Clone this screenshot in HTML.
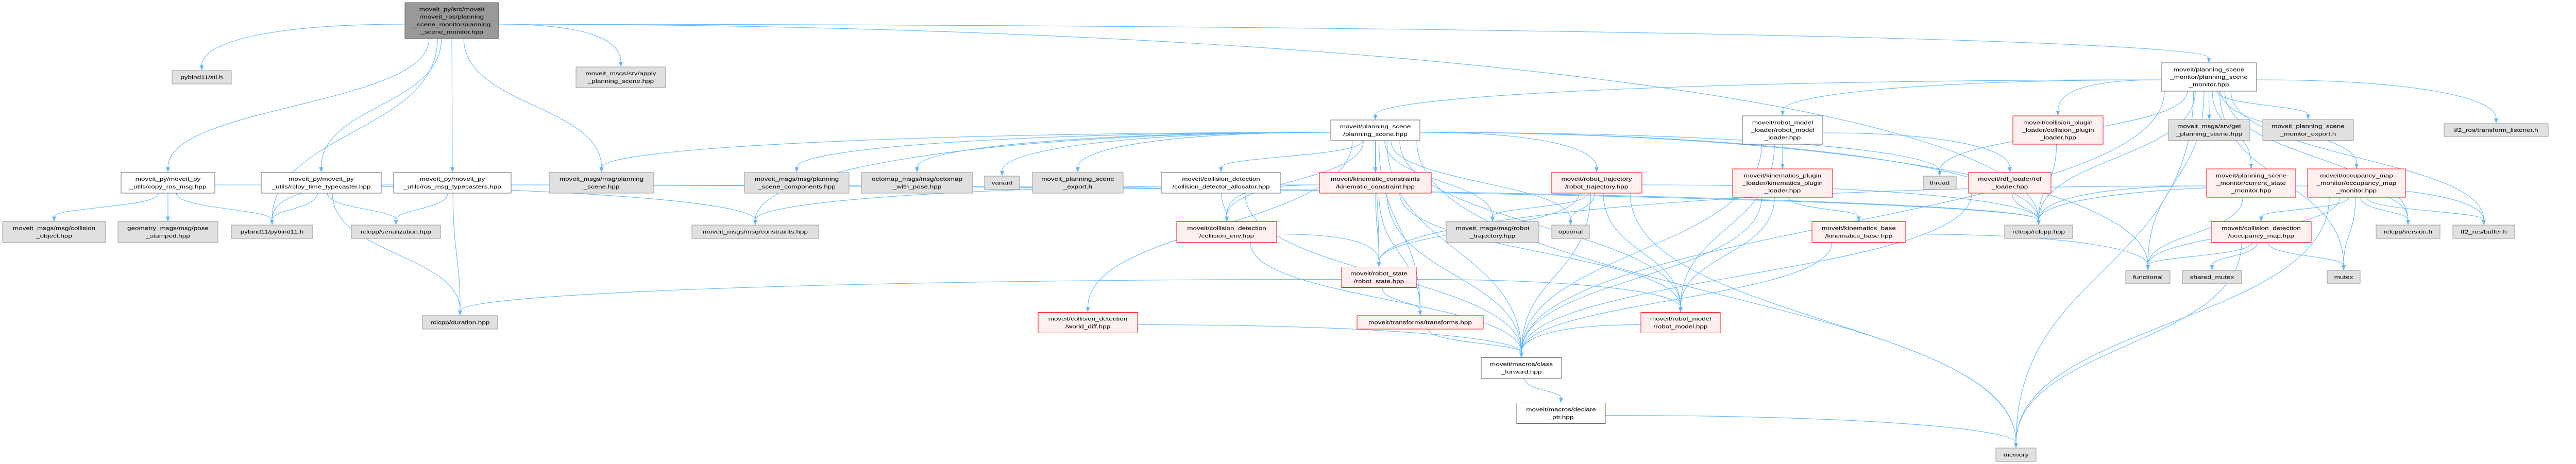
<!DOCTYPE html>
<html><head><meta charset="utf-8"><style>
html,body{margin:0;padding:0;background:#fff;}
svg{display:block;}
text{font-family:"Liberation Sans",sans-serif;font-size:10px;fill:#000;text-anchor:middle;}
.g rect{fill:#e0e0e0;stroke:#999;stroke-width:1;}
.w rect{fill:#fff;stroke:#666;stroke-width:1;}
.r rect{fill:#fff0f0;stroke:#ff0000;stroke-width:1;}
.k rect{fill:#999;stroke:#666;stroke-width:1;}
#edges path{fill:none;stroke:#63b8ff;stroke-width:1.1;}
</style></head><body>
<svg id="svg" width="5091" height="901" viewBox="0 0 5091 901" xmlns="http://www.w3.org/2000/svg">
<defs><marker id="a" markerWidth="10" markerHeight="8" refX="0" refY="4" orient="auto" markerUnits="userSpaceOnUse"><path d="M0,0 L10,4 L0,8z" fill="#63b8ff"/></marker></defs>
<g id="edges"></g>
<g id="nodes">
<g class="k" transform="translate(877,40)"><rect x="-91" y="-35" width="182" height="70"/><text transform="scale(1.35,1)"><tspan x="0" y="-18.55">moveit_py/src/moveit</tspan><tspan x="0" y="-3.85">/moveit_ros/planning</tspan><tspan x="0" y="10.85">_scene_monitor/planning</tspan><tspan x="0" y="25.55">_scene_monitor.hpp</tspan></text></g>
<g class="g" transform="translate(391.5,150)"><rect x="-57.5" y="-13" width="115" height="26"/><text transform="scale(1.35,1)"><tspan x="0" y="3.5">pybind11/stl.h</tspan></text></g>
<g class="g" transform="translate(1205,150)"><rect x="-87" y="-20" width="174" height="40"/><text transform="scale(1.35,1)"><tspan x="0" y="-3.85">moveit_msgs/srv/apply</tspan><tspan x="0" y="10.85">_planning_scene.hpp</tspan></text></g>
<g class="w" transform="translate(4287.5,149.5)"><rect x="-92.5" y="-27.5" width="185" height="55"/><text transform="scale(1.35,1)"><tspan x="0" y="-11.2">moveit/planning_scene</tspan><tspan x="0" y="3.5">_monitor/planning_scene</tspan><tspan x="0" y="18.2">_monitor.hpp</tspan></text></g>
<g class="w" transform="translate(2669.5,253)"><rect x="-86.5" y="-20" width="173" height="40"/><text transform="scale(1.35,1)"><tspan x="0" y="-3.85">moveit/planning_scene</tspan><tspan x="0" y="10.85">/planning_scene.hpp</tspan></text></g>
<g class="w" transform="translate(3460,252.5)"><rect x="-78" y="-27.5" width="156" height="55"/><text transform="scale(1.35,1)"><tspan x="0" y="-11.2">moveit/robot_model</tspan><tspan x="0" y="3.5">_loader/robot_model</tspan><tspan x="0" y="18.2">_loader.hpp</tspan></text></g>
<g class="r" transform="translate(3994.5,252.5)"><rect x="-87.5" y="-27.5" width="175" height="55"/><text transform="scale(1.35,1)"><tspan x="0" y="-11.2">moveit/collision_plugin</tspan><tspan x="0" y="3.5">_loader/collision_plugin</tspan><tspan x="0" y="18.2">_loader.hpp</tspan></text></g>
<g class="g" transform="translate(4288,252.5)"><rect x="-79" y="-20" width="158" height="40"/><text transform="scale(1.35,1)"><tspan x="0" y="-3.85">moveit_msgs/srv/get</tspan><tspan x="0" y="10.85">_planning_scene.hpp</tspan></text></g>
<g class="g" transform="translate(4480,252.5)"><rect x="-88" y="-20" width="176" height="40"/><text transform="scale(1.35,1)"><tspan x="0" y="-3.85">moveit_planning_scene</tspan><tspan x="0" y="10.85">_monitor_export.h</tspan></text></g>
<g class="g" transform="translate(4845,252.5)"><rect x="-101" y="-12.5" width="202" height="25"/><text transform="scale(1.35,1)"><tspan x="0" y="3.5">tf2_ros/transform_listener.h</tspan></text></g>

<g class="w" transform="translate(326,355)"><rect x="-91" y="-20" width="182" height="40"/><text transform="scale(1.35,1)"><tspan x="0" y="-3.85">moveit_py/moveit_py</tspan><tspan x="0" y="10.85">_utils/copy_ros_msg.hpp</tspan></text></g>
<g class="w" transform="translate(623.5,355)"><rect x="-116.5" y="-20" width="233" height="40"/><text transform="scale(1.35,1)"><tspan x="0" y="-3.85">moveit_py/moveit_py</tspan><tspan x="0" y="10.85">_utils/rclpy_time_typecaster.hpp</tspan></text></g>
<g class="w" transform="translate(878,355)"><rect x="-114" y="-20" width="228" height="40"/><text transform="scale(1.35,1)"><tspan x="0" y="-3.85">moveit_py/moveit_py</tspan><tspan x="0" y="10.85">_utils/ros_msg_typecasters.hpp</tspan></text></g>
<g class="g" transform="translate(1167.5,355)"><rect x="-101.5" y="-20" width="203" height="40"/><text transform="scale(1.35,1)"><tspan x="0" y="-3.85">moveit_msgs/msg/planning</tspan><tspan x="0" y="10.85">_scene.hpp</tspan></text></g>
<g class="g" transform="translate(1546.5,355)"><rect x="-101.5" y="-20" width="203" height="40"/><text transform="scale(1.35,1)"><tspan x="0" y="-3.85">moveit_msgs/msg/planning</tspan><tspan x="0" y="10.85">_scene_components.hpp</tspan></text></g>
<g class="g" transform="translate(1780,355)"><rect x="-108" y="-20" width="216" height="40"/><text transform="scale(1.35,1)"><tspan x="0" y="-3.85">octomap_msgs/msg/octomap</tspan><tspan x="0" y="10.85">_with_pose.hpp</tspan></text></g>
<g class="g" transform="translate(1945,355)"><rect x="-34" y="-13" width="68" height="26"/><text transform="scale(1.35,1)"><tspan x="0" y="3.5">variant</tspan></text></g>
<g class="g" transform="translate(2092,355)"><rect x="-88" y="-20" width="176" height="40"/><text transform="scale(1.35,1)"><tspan x="0" y="-3.85">moveit_planning_scene</tspan><tspan x="0" y="10.85">_export.h</tspan></text></g>
<g class="w" transform="translate(2370,355)"><rect x="-116" y="-20" width="232" height="40"/><text transform="scale(1.33,1)"><tspan x="0" y="-3.85">moveit/collision_detection</tspan><tspan x="0" y="10.85">/collision_detector_allocator.hpp</tspan></text></g>
<g class="r" transform="translate(2669.5,355)"><rect x="-108.5" y="-20" width="217" height="40"/><text transform="scale(1.35,1)"><tspan x="0" y="-3.85">moveit/kinematic_constraints</tspan><tspan x="0" y="10.85">/kinematic_constraint.hpp</tspan></text></g>
<g class="r" transform="translate(3099,355)"><rect x="-88" y="-20" width="176" height="40"/><text transform="scale(1.35,1)"><tspan x="0" y="-3.85">moveit/robot_trajectory</tspan><tspan x="0" y="10.85">/robot_trajectory.hpp</tspan></text></g>
<g class="r" transform="translate(3460,355.5)"><rect x="-97" y="-27.5" width="194" height="55"/><text transform="scale(1.35,1)"><tspan x="0" y="-11.2">moveit/kinematics_plugin</tspan><tspan x="0" y="3.5">_loader/kinematics_plugin</tspan><tspan x="0" y="18.2">_loader.hpp</tspan></text></g>
<g class="g" transform="translate(3765,355)"><rect x="-32" y="-13" width="64" height="26"/><text transform="scale(1.35,1)"><tspan x="0" y="3.5">thread</tspan></text></g>
<g class="r" transform="translate(3901,355)"><rect x="-80" y="-20" width="160" height="40"/><text transform="scale(1.35,1)"><tspan x="0" y="-3.85">moveit/rdf_loader/rdf</tspan><tspan x="0" y="10.85">_loader.hpp</tspan></text></g>
<g class="r" transform="translate(4369.5,355.5)"><rect x="-86.5" y="-27.5" width="173" height="55"/><text transform="scale(1.35,1)"><tspan x="0" y="-11.2">moveit/planning_scene</tspan><tspan x="0" y="3.5">_monitor/current_state</tspan><tspan x="0" y="18.2">_monitor.hpp</tspan></text></g>
<g class="r" transform="translate(4574,355.5)"><rect x="-95" y="-27.5" width="190" height="55"/><text transform="scale(1.35,1)"><tspan x="0" y="-11.2">moveit/occupancy_map</tspan><tspan x="0" y="3.5">_monitor/occupancy_map</tspan><tspan x="0" y="18.2">_monitor.hpp</tspan></text></g>

<g class="g" transform="translate(105,450.5)"><rect x="-100" y="-20" width="200" height="40"/><text transform="scale(1.35,1)"><tspan x="0" y="-3.85">moveit_msgs/msg/collision</tspan><tspan x="0" y="10.85">_object.hpp</tspan></text></g>
<g class="g" transform="translate(326,450.5)"><rect x="-97" y="-20" width="194" height="40"/><text transform="scale(1.35,1)"><tspan x="0" y="-3.85">geometry_msgs/msg/pose</tspan><tspan x="0" y="10.85">_stamped.hpp</tspan></text></g>
<g class="g" transform="translate(528,450)"><rect x="-79" y="-13" width="158" height="26"/><text transform="scale(1.35,1)"><tspan x="0" y="3.5">pybind11/pybind11.h</tspan></text></g>
<g class="g" transform="translate(768.5,450)"><rect x="-86.5" y="-13" width="173" height="26"/><text transform="scale(1.35,1)"><tspan x="0" y="3.5">rclcpp/serialization.hpp</tspan></text></g>
<g class="g" transform="translate(1466,450)"><rect x="-123" y="-13" width="246" height="26"/><text transform="scale(1.35,1)"><tspan x="0" y="3.5">moveit_msgs/msg/constraints.hpp</tspan></text></g>
<g class="r" transform="translate(2381,450.5)"><rect x="-97" y="-20" width="194" height="40"/><text transform="scale(1.35,1)"><tspan x="0" y="-3.85">moveit/collision_detection</tspan><tspan x="0" y="10.85">/collision_env.hpp</tspan></text></g>
<g class="g" transform="translate(2897,450.5)"><rect x="-90" y="-20" width="180" height="40"/><text transform="scale(1.35,1)"><tspan x="0" y="-3.85">moveit_msgs/msg/robot</tspan><tspan x="0" y="10.85">_trajectory.hpp</tspan></text></g>
<g class="g" transform="translate(3048.5,450)"><rect x="-36.5" y="-13" width="73" height="26"/><text transform="scale(1.35,1)"><tspan x="0" y="3.5">optional</tspan></text></g>
<g class="r" transform="translate(3608,450.5)"><rect x="-91" y="-20" width="182" height="40"/><text transform="scale(1.35,1)"><tspan x="0" y="-3.85">moveit/kinematics_base</tspan><tspan x="0" y="10.85">/kinematics_base.hpp</tspan></text></g>
<g class="g" transform="translate(3957,450)"><rect x="-66" y="-13" width="132" height="26"/><text transform="scale(1.35,1)"><tspan x="0" y="3.5">rclcpp/rclcpp.hpp</tspan></text></g>
<g class="r" transform="translate(4389,450.5)"><rect x="-97" y="-20" width="194" height="40"/><text transform="scale(1.35,1)"><tspan x="0" y="-3.85">moveit/collision_detection</tspan><tspan x="0" y="10.85">/occupancy_map.hpp</tspan></text></g>
<g class="g" transform="translate(4674,450)"><rect x="-62" y="-13" width="124" height="26"/><text transform="scale(1.35,1)"><tspan x="0" y="3.5">rclcpp/version.h</tspan></text></g>
<g class="g" transform="translate(4821,450)"><rect x="-60" y="-13" width="120" height="26"/><text transform="scale(1.35,1)"><tspan x="0" y="3.5">tf2_ros/buffer.h</tspan></text></g>

<g class="r" transform="translate(2676.5,538.5)"><rect x="-72.5" y="-20" width="145" height="40"/><text transform="scale(1.35,1)"><tspan x="0" y="-3.85">moveit/robot_state</tspan><tspan x="0" y="10.85">/robot_state.hpp</tspan></text></g>
<g class="g" transform="translate(4169,538)"><rect x="-43" y="-13" width="86" height="26"/><text transform="scale(1.35,1)"><tspan x="0" y="3.5">functional</tspan></text></g>
<g class="g" transform="translate(4293.5,538)"><rect x="-57.5" y="-13" width="115" height="26"/><text transform="scale(1.35,1)"><tspan x="0" y="3.5">shared_mutex</tspan></text></g>
<g class="g" transform="translate(4549,538)"><rect x="-32" y="-13" width="64" height="26"/><text transform="scale(1.35,1)"><tspan x="0" y="3.5">mutex</tspan></text></g>

<g class="g" transform="translate(893,626)"><rect x="-73" y="-13" width="146" height="26"/><text transform="scale(1.35,1)"><tspan x="0" y="3.5">rclcpp/duration.hpp</tspan></text></g>
<g class="r" transform="translate(2111.5,626.5)"><rect x="-96.5" y="-20" width="193" height="40"/><text transform="scale(1.35,1)"><tspan x="0" y="-3.85">moveit/collision_detection</tspan><tspan x="0" y="10.85">/world_diff.hpp</tspan></text></g>
<g class="r" transform="translate(2756.5,626)"><rect x="-122.5" y="-13" width="245" height="26"/><text transform="scale(1.35,1)"><tspan x="0" y="3.5">moveit/transforms/transforms.hpp</tspan></text></g>
<g class="r" transform="translate(3262,626.5)"><rect x="-77" y="-20" width="154" height="40"/><text transform="scale(1.35,1)"><tspan x="0" y="-3.85">moveit/robot_model</tspan><tspan x="0" y="10.85">/robot_model.hpp</tspan></text></g>
<g class="w" transform="translate(2953,714.5)"><rect x="-78" y="-20" width="156" height="40"/><text transform="scale(1.35,1)"><tspan x="0" y="-3.85">moveit/macros/class</tspan><tspan x="0" y="10.85">_forward.hpp</tspan></text></g>
<g class="w" transform="translate(3030,802.5)"><rect x="-86" y="-20" width="172" height="40"/><text transform="scale(1.35,1)"><tspan x="0" y="-3.85">moveit/macros/declare</tspan><tspan x="0" y="10.85">_ptr.hpp</tspan></text></g>
<g class="g" transform="translate(3913,883)"><rect x="-39" y="-13" width="78" height="26"/><text transform="scale(1.35,1)"><tspan x="0" y="3.5">memory</tspan></text></g>
</g>
</svg>
<script>
var N={root:[877,40,182,70],stl:[391.5,150,115,26],apply:[1205,150,174,40],psm:[4287.5,149.5,185,55],ps:[2669.5,253,173,40],rml:[3460,252.5,156,55],cpl:[3994.5,252.5,175,55],gps:[4288,252.5,158,40],pse:[4480,252.5,176,40],tfl:[4845,252.5,202,25],
copy:[326,355,182,40],rclpy:[623.5,355,233,40],rosmsg:[878,355,228,40],mps:[1167.5,355,203,40],psc:[1546.5,355,203,40],oct:[1780,355,216,40],variant:[1945,355,68,26],mpse:[2092,355,176,40],alloc:[2370,355,232,40],kc:[2669.5,355,217,40],rt:[3099,355,176,40],kpl:[3460,355.5,194,55],thread:[3765,355,64,26],rdf:[3901,355,160,40],csm:[4369.5,355.5,173,55],omm:[4574,355.5,190,55],
co:[105,450.5,200,40],pose:[326,450.5,194,40],pyb:[528,450,158,26],ser:[768.5,450,173,26],cons:[1466,450,246,26],cenv:[2381,450.5,194,40],rtm:[2897,450.5,180,40],opt:[3048.5,450,73,26],kb:[3608,450.5,182,40],rclcpp:[3957,450,132,26],om:[4389,450.5,194,40],ver:[4674,450,124,26],buf:[4821,450,120,26],
rs:[2676.5,538.5,145,40],func:[4169,538,86,26],smx:[4293.5,538,115,26],mutex:[4549,538,64,26],dur:[893,626,146,26],wd:[2111.5,626.5,193,40],tr:[2756.5,626,245,26],rm:[3262,626.5,154,40],cf:[2953,714.5,156,40],dp:[3030,802.5,172,40],mem:[3913,883,78,26]};
var E={root:"copy stl rclpy pyb rosmsg mps apply psm rclcpp",copy:"co pose pyb cons",rclpy:"pyb ser dur rclcpp",rosmsg:"pyb ser dur rclcpp",
psm:"ps rml cpl gps pse tfl csm omm rclcpp thread ver buf mem mutex func cf",
ps:"mps psc oct variant mpse alloc kc rt wd cenv rs tr rm cf mem cons rclcpp opt rtm thread func",
alloc:"cenv cf",kc:"cons cenv rs tr rm cf",rt:"rtm opt rs rm cf rclcpp mem",rml:"kpl rdf rm cf",kpl:"kb rm cf",cpl:"rclcpp",rdf:"rclcpp cf",
csm:"rs rclcpp func ver buf",omm:"om rclcpp ver buf mutex mem func",om:"func smx mutex mem",kb:"func cf",cenv:"rs cf",rs:"rm tr dur",tr:"cf",rm:"cf",wd:"cf",cf:"dp",dp:"mem"};
var g=document.getElementById('edges'),out='';
for(var s in E){E[s].split(' ').forEach(function(t){
 var a=N[s],b=N[t];var sx=a[0],sy=a[1]+a[3]/2,tx=b[0],ty=b[1]-b[3]/2;
 var dx=tx-sx,dy=ty-sy;
 var off=Math.max(-(a[2]/2-6),Math.min(a[2]/2-6,dx*0.08));
 var d;
 if(Math.abs(dx)>5*dy){
  sx=a[0]+(dx>0?a[2]/2:-a[2]/2);sy=a[1]+a[3]*0.1;dy=ty-sy;
  d='M'+sx+','+sy+' C'+(sx+dx*0.55)+','+sy+' '+tx+','+(ty-dy*0.6)+' '+tx+','+(ty-10);
 } else {
  sx=sx+off;
  d='M'+sx+','+sy+' C'+sx+','+(sy+dy*0.5)+' '+tx+','+(ty-dy*0.5)+' '+tx+','+(ty-10);
 }
 out+='<path d="'+d+'" marker-end="url(#a)"/>';
});}
g.innerHTML=out;
</script>
</body></html>
